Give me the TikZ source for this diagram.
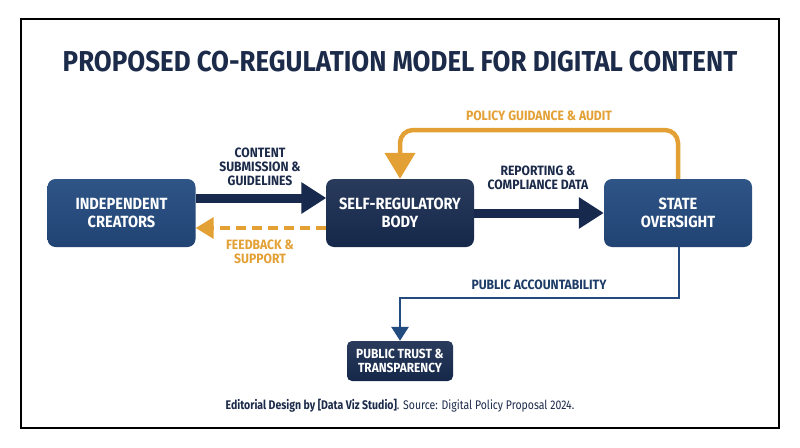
\documentclass[tikz,border=0pt]{standalone}
\usepackage{fontspec}
\setmainfont{Fira Sans}
\newfontfamily\condf[FakeStretch=0.84]{Fira Sans}
\newfontfamily\condg[FakeStretch=0.9]{Fira Sans}
\usetikzlibrary{arrows.meta}
\definecolor{navy}{HTML}{172A4E}
\definecolor{midblue}{HTML}{244B80}
\definecolor{gold}{HTML}{E3A034}
\definecolor{txtnavy}{HTML}{1C2B4A}
\tikzset{
  boxmid/.style={rounded corners=8pt, top color=midblue!95!white, bottom color=midblue!90!black, draw=none, text=white, font=\condg\bfseries\fontsize{16.2}{18}\selectfont, align=center, minimum width=148pt, minimum height=68pt, inner sep=0pt},
  boxdark/.style={rounded corners=8pt, top color=navy!92!white, bottom color=navy!95!black, draw=none, text=white, font=\condg\bfseries\fontsize{16.2}{18}\selectfont, align=center, minimum width=148pt, minimum height=68pt, inner sep=0pt},
  lbl/.style={font=\condg\bfseries\fontsize{13.5}{14}\selectfont, align=center, text=txtnavy},
  lblgold/.style={font=\condg\bfseries\fontsize{13.5}{14}\selectfont, align=center, text=gold},
  thickarrow/.style={draw=navy, line width=9pt, -{Triangle[length=25pt, width=30pt]}},
}
\begin{document}
\begin{tikzpicture}[x=1pt, y=-1pt]
\useasboundingbox (0,0) rectangle (800,447);
\fill[white] (0,0) rectangle (800,447);
\draw[black, line width=2.6pt] (21,19) rectangle (779,428);
\node[font=\condg\bfseries\fontsize{28.8}{30}\selectfont, text=txtnavy] (title) at (400,62) {PROPOSED CO-REGULATION MODEL FOR DIGITAL CONTENT};

\node[boxmid] (ind) at (121.5,213) {INDEPENDENT\\CREATORS};
\node[boxdark] (self) at (400,213) {SELF-REGULATORY\\BODY};
\node[boxmid] (state) at (678,213) {STATE\\OVERSIGHT};
\node[boxdark, minimum width=106pt, minimum height=40pt, rounded corners=5pt, font=\condg\bfseries\fontsize{13.2}{13.5}\selectfont] (pub) at (400,361) {PUBLIC TRUST \&\\TRANSPARENCY};

\draw[thickarrow, shorten >=-0.5pt] ([yshift=15pt]ind.east) -- ([yshift=15pt]self.west);
\draw[draw=gold, line width=3.5pt, dash pattern=on 10pt off 6pt, -{Triangle[length=18pt, width=21pt]}] ([yshift=-15pt]self.west) -- ([yshift=-15pt]ind.east);
\draw[thickarrow] (self.east) -- (state.west);

\coordinate (pg1) at (678,130);
\coordinate (pg2) at (400,130);
\draw[draw=gold, line width=4.5pt, rounded corners=13pt, -{Triangle[length=26pt, width=30pt]}] (state.north) -- (pg1) -- (pg2) -- (self.north);

\coordinate (pa1) at (679,298);
\coordinate (pa2) at (400,298);
\draw[draw=midblue, line width=2.8pt, -{Triangle[length=14pt, width=17pt]}] ([xshift=1pt]state.south) -- (pa1) -- (pa2) -- (pub.north);

\node[lbl] (l1) at (260,167) {CONTENT\\SUBMISSION \&\\GUIDELINES};
\node[lblgold] (l2) at (260,252) {FEEDBACK \&\\SUPPORT};
\node[lbl] (l3) at (538,178) {REPORTING \&\\COMPLIANCE DATA};
\node[lblgold] (l4) at (539,116) {POLICY GUIDANCE \& AUDIT};
\node[lbl, text=midblue!80!black] (l5) at (539,285) {PUBLIC ACCOUNTABILITY};

\node[font=\condf\fontsize{12.5}{14}\selectfont, text=txtnavy] (foot) at (400,406) {\textbf{Editorial Design by [Data Viz Studio]}. Source: Digital Policy Proposal 2024.};
\end{tikzpicture}
\end{document}
